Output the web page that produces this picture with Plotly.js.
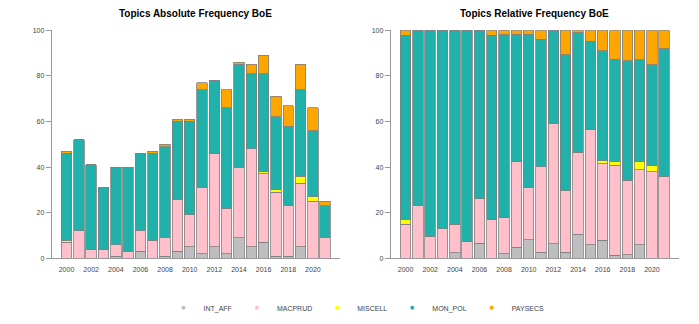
<!DOCTYPE html>
<html>
<head>
<meta charset="utf-8">
<script src="https://cdn.plot.ly/plotly-3.0.1.min.js"></script>
<style>
  html, body { margin: 0; padding: 0; background: #fff; }
  #chart { width: 699px; height: 324px; }
</style>
</head>
<body>
<div id="chart"></div>
<script>
// Topic counts per year, Bank of England
const years = [2000, 2001, 2002, 2003, 2004, 2005, 2006, 2007, 2008, 2009, 2010,
               2011, 2012, 2013, 2014, 2015, 2016, 2017, 2018, 2019, 2020, 2021];
const yearTicks = [2000, 2002, 2004, 2006, 2008, 2010, 2012, 2014, 2016, 2018, 2020];
const intAff  = [0, 0, 0, 0, 1, 0, 3, 0, 1, 3, 5, 2, 5, 2, 9, 5, 7, 1, 1, 5, 0, 0];
const macprud = [7, 12, 4, 4, 5, 3, 9, 8, 8, 23, 14, 29, 41, 20, 31, 43, 30, 28, 22, 28, 25, 9];
const miscell = [1, 0, 0, 0, 0, 0, 0, 0, 0, 0, 0, 0, 0, 0, 0, 0, 1, 1, 0, 3, 2, 0];
const monPol  = [38, 40, 37, 27, 34, 37, 34, 38, 40, 34, 41, 43, 32, 44, 45, 33, 43, 32, 35, 38, 29, 14];
const paysecs = [1, 0, 0, 0, 0, 0, 0, 1, 1, 1, 1, 3, 0, 8, 1, 4, 8, 9, 9, 11, 10, 2];

const topicNames = ['INT_AFF', 'MACPRUD', 'MISCELL', 'MON_POL', 'PAYSECS'];
const topicColors = ['#BEBEBE', '#FFC0CB', '#FFFF00', '#20B2AA', '#FFA500'];
const topicCounts = [intAff, macprud, miscell, monPol, paysecs];

// yearly totals, used for the relative panel
const totals = years.map((_, i) => topicCounts.reduce((s, arr) => s + arr[i], 0));

const font = 'Liberation Sans, Arial, sans-serif';
const traces = [];

topicCounts.forEach((counts, k) => {
    traces.push({
        type: 'bar', x: years, y: counts, name: topicNames[k],
        xaxis: 'x', yaxis: 'y', showlegend: false,
        marker: { color: topicColors[k], line: { color: '#808080', width: 0.8 } }
    });
    traces.push({
        type: 'bar', x: years, y: counts.map((v, i) => v / totals[i] * 100), name: topicNames[k],
        xaxis: 'x2', yaxis: 'y2', showlegend: false,
        marker: { color: topicColors[k], line: { color: '#808080', width: 0.8 } }
    });
});

// legend entries drawn as dots
topicNames.forEach((name, k) => {
    traces.push({
        type: 'scatter', mode: 'markers', x: [null], y: [null], name: name,
        xaxis: 'x', yaxis: 'y', showlegend: true,
        marker: { color: topicColors[k], size: 4, symbol: 'circle' }
    });
});

const xAxisBase = {
    range: [1998.8, 2022.2], tickmode: 'array', tickvals: yearTicks,
    showline: true, linecolor: '#999', linewidth: 1,
    ticks: 'outside', ticklen: 4, tickcolor: 'rgba(0,0,0,0)',
    showgrid: false, zeroline: false,
    tickfont: { family: font, size: 7, color: '#444' }, fixedrange: true
};
const yAxisBase = {
    range: [0, 100], tickvals: [0, 20, 40, 60, 80, 100],
    showline: true, linecolor: '#999', linewidth: 1,
    ticks: 'outside', ticklen: 5, tickcolor: '#999',
    showgrid: false, zeroline: false,
    tickfont: { family: font, size: 7, color: '#444' }, fixedrange: true,
    domain: [0.2028, 0.9065]
};

const layout = {
    width: 699, height: 324,
    margin: { l: 0, r: 0, t: 0, b: 0 },
    paper_bgcolor: '#fff', plot_bgcolor: '#fff',
    barmode: 'stack', bargap: 0.15,
    font: { family: font, color: '#444' },
    xaxis: Object.assign({}, xAxisBase, { domain: [0.074, 0.4864], anchor: 'y' }),
    yaxis: Object.assign({}, yAxisBase, { anchor: 'x' }),
    xaxis2: Object.assign({}, xAxisBase, { domain: [0.559, 0.9714], anchor: 'y2' }),
    yaxis2: Object.assign({}, yAxisBase, { anchor: 'x2' }),
    showlegend: true,
    legend: {
        orientation: 'h', x: 0.51, xanchor: 'center', y: 0.05, yanchor: 'middle',
        traceorder: 'normal', itemwidth: 30,
        font: { family: font, size: 7, color: '#444' }
    },
    annotations: [
        {
            text: 'Topics Absolute Frequency BoE', xref: 'paper', yref: 'paper',
            x: 0.2802, y: 1 - 14 / 324, xanchor: 'center', yanchor: 'middle', showarrow: false,
            font: { family: font, size: 10, color: '#000', weight: 'bold' }
        },
        {
            text: 'Topics Relative Frequency BoE', xref: 'paper', yref: 'paper',
            x: 0.7652, y: 1 - 14 / 324, xanchor: 'center', yanchor: 'middle', showarrow: false,
            font: { family: font, size: 10, color: '#000', weight: 'bold' }
        }
    ]
};

Plotly.newPlot('chart', traces, layout, { displayModeBar: false, staticPlot: true });
</script>
</body>
</html>
